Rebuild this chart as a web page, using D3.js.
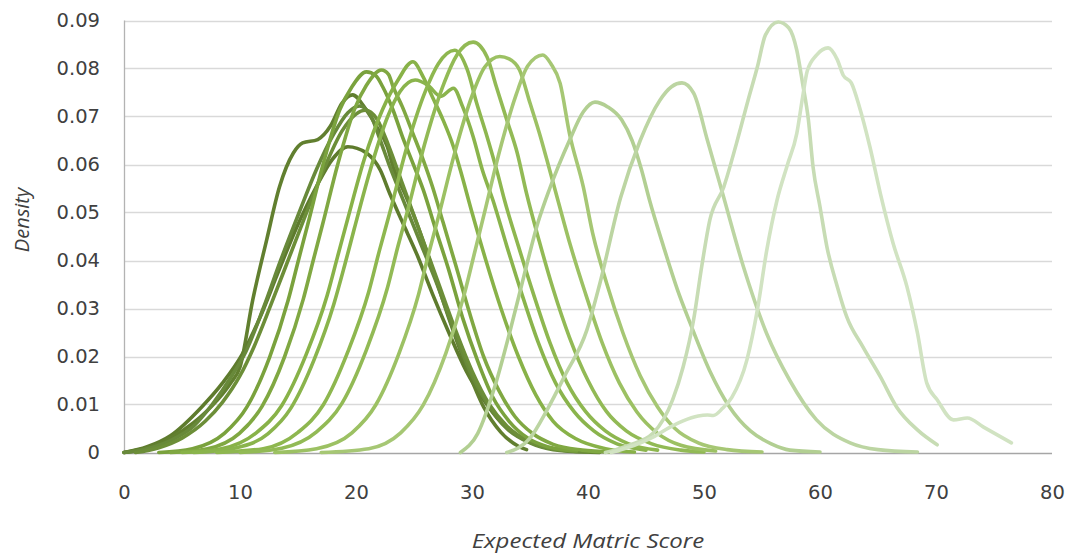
<!DOCTYPE html>
<html>
<head>
<meta charset="utf-8">
<script src="https://cdn.jsdelivr.net/npm/d3@7"></script>
<style>
  body { margin: 0; background: #fff; }
  svg { display: block; }
</style>
</head>
<body>
<div id="chart"></div>
<script>
// tick labels
const xTicks = [0, 10, 20, 30, 40, 50, 60, 70, 80]
const yTicks = [0, 0.01, 0.02, 0.03, 0.04, 0.05, 0.06, 0.07, 0.08, 0.09]

// density curves: [score, density]
const s01 = [[0,0],[2,0.001],[4,0.003],[6,0.0062],[8,0.0108],[9.2,0.0145],[10,0.0178],[11.1,0.0318],[12.3,0.0443],[13.4,0.0553],[14.6,0.0624],[15.4,0.0645],[16.7,0.0652],[17.8,0.068],[18.8,0.0728],[19.7,0.0745],[20.9,0.0713],[21.8,0.0678],[22.7,0.0637],[23.2,0.0595],[24.2,0.054],[25.2,0.048],[26.5,0.039],[28,0.028],[29.5,0.018],[31,0.0095],[32.5,0.0042],[34,0.0013],[34.7,0.0006]]
const s02 = [[0,0],[2,0.0008],[4,0.0025],[6,0.0055],[7.6,0.01],[9.3,0.016],[10.5,0.021],[12,0.03],[13.5,0.04],[15.1,0.05],[16.6,0.059],[18,0.066],[19.3,0.0708],[20.3,0.0722],[21.2,0.0705],[22.1,0.065],[22.8,0.0603],[24,0.053],[25.5,0.044],[27,0.035],[28.5,0.025],[30,0.016],[31.5,0.0095],[33,0.005],[35,0.002],[37,0.0006],[40,0.0001]]
const s03 = [[1,0],[3,0.001],[5,0.003],[7,0.0065],[8.5,0.0105],[10,0.016],[11.2,0.022],[12.7,0.031],[14.3,0.041],[15.9,0.051],[17.4,0.06],[18.8,0.067],[20,0.0705],[20.8,0.0713],[21.8,0.0695],[22.8,0.064],[24,0.056],[25.5,0.046],[27,0.036],[28.5,0.026],[30,0.017],[31.5,0.01],[33,0.0055],[35,0.0022],[37,0.0008],[41,0.0001]]
const s04 = [[0,0],[2,0.0012],[4,0.0035],[6.7,0.0095],[8.5,0.0145],[10.2,0.0205],[11.7,0.028],[13.2,0.037],[14.9,0.047],[16.5,0.055],[18,0.0612],[19.3,0.0637],[20.9,0.0624],[22.1,0.0588],[22.9,0.054],[24,0.048],[25.3,0.041],[26.6,0.033],[28,0.025],[29.5,0.017],[31,0.011],[32.5,0.0063],[34,0.0034],[36,0.0013],[38.5,0.0003],[41,0]]
const s05 = [[3,0],[5.9,0.0008],[8.65,0.004],[10.6,0.0095],[12.55,0.0198],[14.15,0.0317],[15,0.0397],[15.85,0.0476],[17.1,0.0595],[18.6,0.0714],[19.6,0.076],[20.9,0.0793],[21.7,0.0785],[22.3,0.0762],[23.2,0.0713],[24,0.0658],[24.9,0.0603],[25.8,0.0547],[26.8,0.047],[28,0.038],[29.2,0.028],[30.5,0.019],[31.8,0.0115],[33.2,0.0065],[34.8,0.003],[36.5,0.0012],[39,0.0003]]
const s06 = [[4,0],[7.2,0.0008],[9.95,0.004],[11.9,0.0096],[13.85,0.02],[15.45,0.0319],[16.3,0.0399],[17.15,0.0478],[18.4,0.0598],[19.9,0.0717],[20.9,0.0765],[22.2,0.0797],[22.8,0.0788],[23.2,0.0762],[24,0.072],[24.9,0.0665],[25.8,0.0609],[26.6,0.0553],[27.5,0.048],[28.6,0.039],[29.8,0.029],[31,0.02],[32.3,0.013],[33.7,0.0075],[35.2,0.004],[37,0.0017],[39.5,0.0005],[42,0.0001]]
const s07 = [[5,0],[8.4,0.0008],[11.4,0.0041],[13.6,0.0098],[15.7,0.0204],[17.5,0.0326],[18.4,0.0407],[19.3,0.0488],[20.7,0.061],[22.3,0.0715],[23.6,0.0775],[24.9,0.0814],[25.8,0.0782],[26.6,0.074],[27.5,0.0693],[28.4,0.0637],[29,0.0588],[30,0.05],[31.2,0.04],[32.5,0.03],[34,0.02],[35.5,0.012],[37,0.0065],[39,0.0028],[41.5,0.0008],[44,0.0001]]
const s08 = [[6,0],[9.3,0.0008],[12.4,0.0039],[14.4,0.0093],[16.4,0.0194],[18.1,0.031],[19,0.0388],[19.85,0.0466],[21.15,0.0582],[22.7,0.0698],[23.8,0.0752],[25.1,0.0776],[26.2,0.0765],[27.3,0.0742],[28.4,0.0759],[29.2,0.072],[30.1,0.0658],[30.9,0.0588],[31.8,0.0526],[33,0.043],[34.3,0.033],[35.7,0.023],[37.2,0.0145],[38.8,0.0085],[40.5,0.0045],[42.5,0.0018],[45,0.0005]]
const s09 = [[8,0],[12,0.0008],[15,0.0042],[17.2,0.01],[19.3,0.021],[21.1,0.0335],[22,0.0419],[22.95,0.0503],[24.3,0.0629],[26,0.0754],[27.1,0.081],[28.5,0.0838],[29.6,0.0797],[30.4,0.0728],[31.3,0.0658],[32.2,0.0582],[32.8,0.0526],[34,0.043],[35.3,0.033],[36.7,0.023],[38.2,0.0145],[39.8,0.0085],[41.5,0.0045],[43.5,0.0018],[46,0.0005]]
const s10 = [[10,0],[13.6,0.0009],[16.6,0.0043],[18.8,0.0103],[20.9,0.0214],[22.7,0.0342],[23.6,0.0428],[24.55,0.0513],[25.9,0.0641],[27.6,0.077],[28.7,0.0828],[30.1,0.0855],[31.3,0.0824],[32.1,0.0762],[33,0.0693],[33.9,0.0624],[34.7,0.054],[35.8,0.044],[37,0.034],[38.4,0.024],[40,0.015],[41.6,0.0085],[43.3,0.0045],[45.5,0.0018],[48,0.0005],[50,0.0001]]
const s11 = [[13,0],[16.6,0.0008],[19.65,0.0041],[21.7,0.0099],[23.7,0.0206],[25.4,0.033],[26.25,0.0413],[27.15,0.0495],[28.45,0.0619],[30,0.0743],[31.1,0.0803],[32.4,0.0825],[33.2,0.082],[34.1,0.0797],[35,0.0728],[35.9,0.0658],[36.7,0.0588],[37.4,0.0526],[38.5,0.043],[39.8,0.033],[41.2,0.023],[42.7,0.0145],[44.2,0.0085],[46,0.004],[48,0.0015],[51,0.0003]]
const s12 = [[17,0],[21.1,0.0008],[23.85,0.0041],[25.8,0.0099],[27.75,0.0207],[29.35,0.0331],[30.2,0.0414],[31.05,0.0497],[32.3,0.0621],[33.8,0.0745],[34.8,0.0805],[36.1,0.0828],[36.8,0.081],[37.6,0.0769],[38.4,0.0665],[39.6,0.0553],[40.4,0.0457],[41.6,0.0353],[43,0.025],[44.5,0.016],[46,0.0095],[47.5,0.005],[49.5,0.002],[52,0.0006],[55,0.0001]]
const s13 = [[29,0],[30.5,0.004],[32,0.014],[33.3,0.0255],[34.5,0.037],[35.7,0.048],[36.7,0.055],[38.4,0.065],[39.6,0.071],[40.6,0.073],[41.7,0.072],[42.9,0.0693],[43.8,0.065],[44.6,0.059],[45.3,0.0526],[46.5,0.043],[47.7,0.034],[48.8,0.027],[50.5,0.017],[52.2,0.0095],[54,0.0045],[55.8,0.0018],[57.4,0.0005],[60,0.0001]]
const s14 = [[33,0],[35,0.003],[36.5,0.009],[38,0.016],[39.9,0.0255],[41,0.035],[42.8,0.053],[44.5,0.065],[46.2,0.0734],[47.2,0.0762],[48.1,0.077],[49.1,0.0749],[50.3,0.065],[51.6,0.054],[53.4,0.0387],[55.4,0.0248],[57.4,0.015],[59.7,0.0068],[62.6,0.002],[65,0.0006],[68.4,0.0001]]
const s15 = [[41.5,0],[43.5,0.0015],[45.6,0.004],[47.3,0.011],[48.2,0.0178],[49.1,0.0276],[49.8,0.0387],[50.5,0.0484],[51.7,0.0553],[52.8,0.0644],[53.8,0.0734],[54.6,0.0803],[55.3,0.087],[56.4,0.0897],[57.3,0.0885],[58,0.0838],[58.5,0.0769],[59,0.0693],[59.4,0.0595],[60,0.0512],[60.6,0.0428],[61.5,0.0345],[62.3,0.0283],[63.7,0.022],[65.2,0.0158],[66.6,0.0095],[68.4,0.0047],[70.1,0.0016]]
const s16 = [[42,0],[44,0.0015],[45.6,0.0032],[47,0.0052],[48.2,0.0066],[49.5,0.0076],[50.3,0.0078],[50.8,0.0077],[51.6,0.0092],[52.4,0.0115],[53.7,0.0193],[54.6,0.0297],[55.4,0.042],[56.3,0.0526],[57.2,0.06],[58,0.0665],[58.5,0.074],[58.9,0.0795],[59.7,0.0828],[60.7,0.0843],[61.5,0.0818],[62,0.0786],[62.7,0.077],[63.4,0.072],[64.3,0.0637],[65.2,0.054],[66.3,0.0436],[67.5,0.0345],[68.4,0.0249],[69.2,0.0145],[70.1,0.011],[71.5,0.0068],[72.7,0.0072],[74.1,0.0053],[76.5,0.002]]

const series = [s04, s01, s02, s03, s05, s06, s07, s08, s09, s10, s11, s12, s13, s14, s15, s16]
const colors = ['#5e7b2d', '#617f2f', '#68893a', '#6c8e38', '#7aa23d', '#80a842', '#88b248', '#8ab44c', '#8eb74f', '#92ba55', '#9cc163', '#a6c774', '#b2cf92', '#bcd5a2', '#c7dcb4', '#d1e3c2']

const width = 1075
const height = 556
const margin = { top: 20.5, right: 23, bottom: 103.5, left: 124 }

const svg = d3.select('#chart').append('svg')
  .attr('width', width)
  .attr('height', height)

const x = d3.scaleLinear()
  .domain([0, 80])
  .range([margin.left, width - margin.right])

const y = d3.scaleLinear()
  .domain([0, 0.09])
  .range([height - margin.bottom, margin.top])

// gridlines
svg.append('g')
  .selectAll('line')
  .data(yTicks.slice(1))
  .join('line')
  .attr('x1', x(0))
  .attr('x2', x(80))
  .attr('y1', d => Math.round(y(d)) + 0.5)
  .attr('y2', d => Math.round(y(d)) + 0.5)
  .attr('stroke', '#d9d9d9')
  .attr('stroke-width', 1.3)

// axis lines
svg.append('line')
  .attr('x1', x(0) + 0.5).attr('x2', x(0) + 0.5)
  .attr('y1', y(0.09)).attr('y2', y(0))
  .attr('stroke', '#b3b3b3')
  .attr('stroke-width', 1.3)

svg.append('line')
  .attr('x1', x(0)).attr('x2', x(80))
  .attr('y1', Math.round(y(0)) + 0.5).attr('y2', Math.round(y(0)) + 0.5)
  .attr('stroke', '#a6a6a6')
  .attr('stroke-width', 1.3)

const yAxis = g => g
  .attr('transform', `translate(${margin.left},0)`)
  .call(d3.axisLeft(y).tickValues(yTicks).tickSize(0).tickPadding(24)
    .tickFormat(d => d === 0 ? '0' : d.toFixed(2)))
  .call(g => g.select('.domain').remove())

const xAxis = g => g
  .attr('transform', `translate(0,${y(0)})`)
  .call(d3.axisBottom(x).tickValues(xTicks).tickSize(0).tickPadding(33))
  .call(g => g.select('.domain').remove())

svg.append('g').call(yAxis)
svg.append('g').call(xAxis)

svg.selectAll('.tick text')
  .attr('font-family', 'DejaVu Sans')
  .attr('font-size', 19.5)
  .attr('fill', '#404040')

// curves
const line = d3.line()
  .x(d => x(d[0]))
  .y(d => y(d[1]))
  .curve(d3.curveMonotoneX)

svg.append('g')
  .selectAll('path')
  .data(series)
  .join('path')
  .attr('d', line)
  .attr('fill', 'none')
  .attr('stroke', (d, i) => colors[i])
  .attr('stroke-width', 3.6)
  .attr('stroke-linecap', 'round')
  .attr('stroke-linejoin', 'round')

// axis titles
svg.append('text')
  .attr('transform', `translate(${x(40)},548) scale(1.2,1)`)
  .attr('text-anchor', 'middle')
  .attr('font-family', 'Open Sans')
  .attr('font-style', 'italic')
  .attr('font-size', 20)
  .attr('fill', '#404040')
  .text('Expected Matric Score')

svg.append('text')
  .attr('transform', 'translate(29,220) rotate(-90)')
  .attr('text-anchor', 'middle')
  .attr('font-family', 'Open Sans')
  .attr('font-style', 'italic')
  .attr('font-size', 20)
  .attr('fill', '#404040')
  .text('Density')
</script>
</body>
</html>
